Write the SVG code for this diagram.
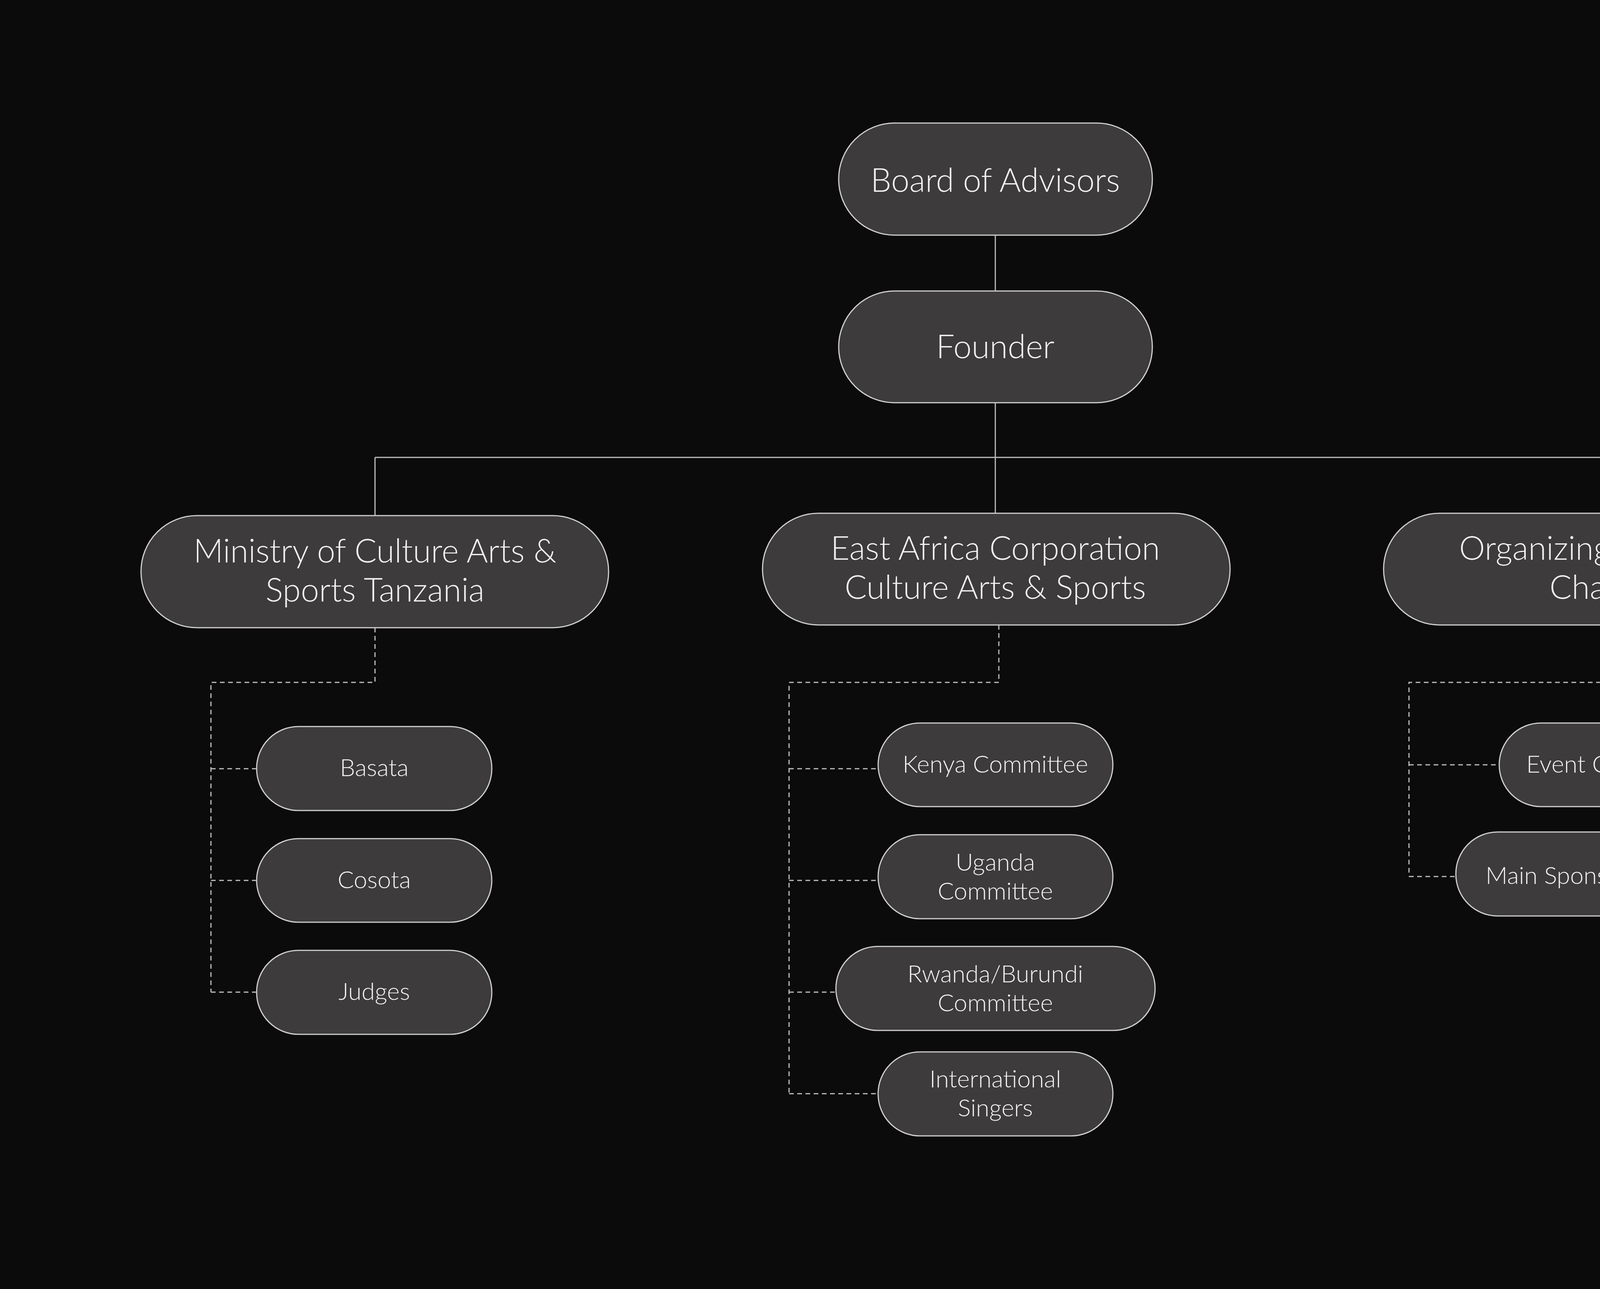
<svg xmlns="http://www.w3.org/2000/svg" width="5100" height="3300" viewBox="0 0 5100 3300">
<style>
.n{fill:#3d3b3b;stroke:#cfcfcf;stroke-width:3}
.t{font-family:Lato,"Open Sans",sans-serif;font-weight:300;fill:#f2f2f2;text-anchor:middle;dominant-baseline:central}
.b{font-size:84px}
.s{font-size:62px}
.c{fill:none;stroke:#bdbdbd;stroke-width:3}
.d{fill:none;stroke:#bdbdbd;stroke-width:3;stroke-dasharray:12 9}
</style>
<rect width="5100" height="3300" fill="#0b0b0b"/>
<g id="connectors">
<path class="c" d="M2548 602V745M2548 1031V1314M960 1171H4140M960 1171V1320M4140 1171V1314"/>
<path class="d" d="M960 1607V1747H540V2540M540 1968H657M540 2254H657M540 2540H657"/>
<path class="d" d="M2557 1600V1747H2020V2800M2020 1968H2248M2020 2254H2248M2020 2540H2140M2020 2800H2248"/>
<path class="d" d="M4140 1600V1747H3607V2244M3607 1958H3838M3607 2244H3727"/>
</g>
<g id="board"><rect class="n" x="2147" y="315" width="803" height="287" rx="143"/><text class="t b" x="2548" y="458">Board of Advisors</text></g>
<g id="founder"><rect class="n" x="2147" y="745" width="803" height="286" rx="143"/><text class="t b" x="2548" y="884">Founder</text></g>
<g id="ministry"><rect class="n" x="361" y="1320" width="1197" height="287" rx="143"/><text class="t b" x="960" y="1407">Ministry of Culture Arts &amp;</text><text class="t b" x="960" y="1507">Sports Tanzania</text></g>
<g id="eastafrica"><rect class="n" x="1952" y="1314" width="1197" height="286" rx="143"/><text class="t b" x="2548" y="1400">East Africa Corporation</text><text class="t b" x="2548" y="1500">Culture Arts &amp; Sports</text></g>
<g id="organizing"><rect class="n" x="3542" y="1314" width="1197" height="286" rx="143"/><text class="t b" x="4140" y="1400">Organizing Committee</text><text class="t b" x="4140" y="1500">Chairman</text></g>
<g id="basata"><rect class="n" x="657" y="1860" width="602" height="215" rx="107"/><text class="t s" x="958" y="1963">Basata</text></g>
<g id="cosota"><rect class="n" x="657" y="2147" width="602" height="214" rx="107"/><text class="t s" x="958" y="2250">Cosota</text></g>
<g id="judges"><rect class="n" x="657" y="2433" width="602" height="215" rx="107"/><text class="t s" x="958" y="2536">Judges</text></g>
<g id="kenya"><rect class="n" x="2248" y="1851" width="601" height="214" rx="107"/><text class="t s" x="2548" y="1954">Kenya Committee</text></g>
<g id="uganda"><rect class="n" x="2248" y="2137" width="601" height="215" rx="107"/><text class="t s" x="2548" y="2205">Uganda</text><text class="t s" x="2548" y="2279">Committee</text></g>
<g id="rwanda"><rect class="n" x="2140" y="2423" width="817" height="215" rx="107"/><text class="t s" x="2548" y="2491">Rwanda/Burundi</text><text class="t s" x="2548" y="2565">Committee</text></g>
<g id="international"><rect class="n" x="2248" y="2693" width="601" height="215" rx="107"/><text class="t s" x="2548" y="2760">International</text><text class="t s" x="2548" y="2834">Singers</text></g>
<g id="event"><rect class="n" x="3838" y="1851" width="602" height="214" rx="107"/><text class="t s" x="4139" y="1954">Event Committee</text></g>
<g id="sponsor"><rect class="n" x="3727" y="2130" width="817" height="215" rx="107"/><text class="t s" x="4136" y="2239">Main Sponsor &amp; Partners</text></g>
</svg>
